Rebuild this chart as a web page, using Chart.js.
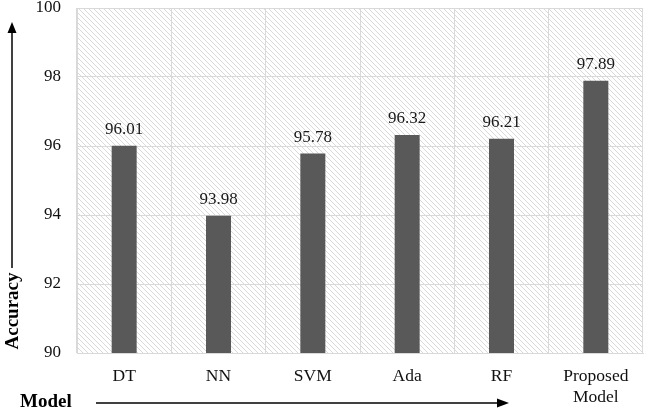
<!DOCTYPE html>
<html><head><meta charset="utf-8">
<script src="https://cdn.jsdelivr.net/npm/chart.js@4/dist/chart.umd.min.js"></script>
<style>html,body{margin:0;padding:0;background:#fff}#wrap{width:645px;height:412px}</style>
</head><body><div id="wrap"><canvas id="c" width="645" height="412"></canvas></div>
<script>
const categories = ["DT", "NN", "SVM", "Ada", "RF", ["Proposed", "Model"]];
const accuracy = [96.01, 93.98, 95.78, 96.32, 96.21, 97.89];
const yTicks = [90, 92, 94, 96, 98, 100];

function makePattern(ctx) {
  const c = document.createElement('canvas');
  c.width = 5; c.height = 5;
  const g = c.getContext('2d');
  g.strokeStyle = '#d9d9d9'; g.lineWidth = 1;
  g.beginPath();
  g.moveTo(-1, -1); g.lineTo(6, 6);
  g.moveTo(-1, 4); g.lineTo(1, 6);
  g.moveTo(4, -1); g.lineTo(6, 1);
  g.stroke();
  return ctx.createPattern(c, 'repeat');
}

const decor = {
  id: 'decor',
  beforeDraw(chart) {
    const {ctx, chartArea: a} = chart;
    ctx.save();
    ctx.fillStyle = makePattern(ctx);
    ctx.fillRect(a.left, a.top, a.right - a.left, a.bottom - a.top);
    ctx.restore();
  },
  afterDraw(chart) {
    const {ctx} = chart;
    ctx.save();
    ctx.fillStyle = '#1a1a1a';
    ctx.font = '17px "Liberation Serif"';
    ctx.textAlign = 'center'; ctx.textBaseline = 'bottom';
    const meta = chart.getDatasetMeta(0);
    meta.data.forEach((bar, i) => {
      ctx.fillText(accuracy[i].toFixed(2), bar.x, bar.y - 8);
    });
    ctx.strokeStyle = '#000'; ctx.fillStyle = '#000'; ctx.lineWidth = 1.5;
    ctx.beginPath(); ctx.moveTo(12, 268); ctx.lineTo(12, 32); ctx.stroke();
    ctx.beginPath(); ctx.moveTo(12, 22); ctx.lineTo(7.5, 33); ctx.lineTo(16.5, 33); ctx.closePath(); ctx.fill();
    ctx.beginPath(); ctx.moveTo(96, 403); ctx.lineTo(498, 403); ctx.stroke();
    ctx.beginPath(); ctx.moveTo(509, 403); ctx.lineTo(497, 398.5); ctx.lineTo(497, 407.5); ctx.closePath(); ctx.fill();
    ctx.font = 'bold 19px "Liberation Serif"';
    ctx.textAlign = 'left'; ctx.textBaseline = 'middle';
    ctx.fillText('Model', 20, 402);
    ctx.save();
    ctx.translate(13, 311); ctx.rotate(-Math.PI / 2);
    ctx.textAlign = 'center';
    ctx.fillText('Accuracy', 0, 0);
    ctx.restore();
    ctx.restore();
  }
};

new Chart(document.getElementById('c'), {
  type: 'bar',
  data: {
    labels: categories,
    datasets: [{
      data: accuracy,
      backgroundColor: '#595959',
      barPercentage: 0.53,
      categoryPercentage: 0.5
    }]
  },
  options: {
    responsive: false,
    animation: false,
    layout: {padding: {top: 8, right: 2, left: 0, bottom: 0}},
    plugins: {legend: {display: false}, tooltip: {enabled: false}},
    scales: {
      x: {
        grid: {color: '#d9d9d9', offset: true, drawTicks: false},
        border: {color: '#d9d9d9'},
        ticks: {color: '#111', font: {family: '"Liberation Serif"', size: 17.5, lineHeight: 1.2}, padding: 13, maxRotation: 0},
        afterFit(s) { s.height = 59; s.paddingLeft = 0; s.paddingRight = 0; }
      },
      y: {
        min: 90, max: 100,
        afterBuildTicks(s) { s.ticks = yTicks.map(v => ({value: v})); },
        grid: {color: '#d9d9d9', drawTicks: false},
        border: {color: '#d9d9d9'},
        ticks: {color: '#111', font: {family: '"Liberation Serif"', size: 17}, padding: 16},
        afterFit(s) { s.width = 77; s.paddingTop = 0; s.paddingBottom = 0; }
      }
    }
  },
  plugins: [decor]
});
</script></body></html>
